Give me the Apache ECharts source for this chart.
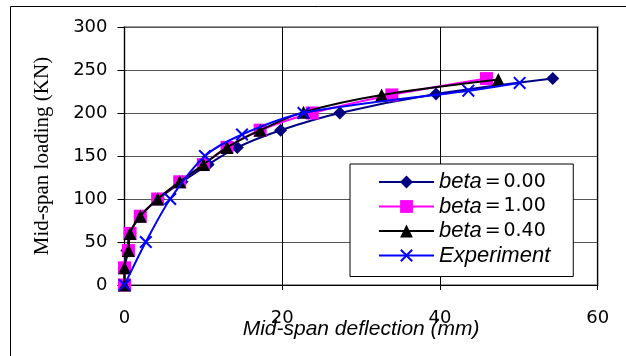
<!DOCTYPE html>
<html>
<head>
<meta charset="utf-8">
<script src="https://cdn.jsdelivr.net/npm/echarts@6/dist/echarts.min.js"></script>
<style>
html,body{margin:0;padding:0;background:#fff;}
#c{width:626px;height:356px;}
</style>
</head>
<body>
<div id="c"></div>
<script>
// ---- data ----
const seriesNames = ['beta = 0.00', 'beta = 1.00', 'beta = 0.40', 'Experiment'];

const beta000X = [0, 0, 0.3, 0.7, 2, 4.3, 7.3, 10.6, 14.3, 19.8, 27.3, 39.5, 54.3];
const beta000Y = [0, 20, 40, 60, 80, 100, 120, 140, 160, 180, 200, 222, 240];

const beta100X = [0, 0, 0.5, 0.7, 2, 4.2, 7, 10, 13, 17.2, 23.8, 33.9, 45.9];
const beta100Y = [0, 20, 40, 60, 80, 100, 120, 140, 160, 180, 200, 221, 240];

const beta040X = [0, 0, 0.5, 0.7, 2, 4.2, 7, 10, 13, 17.2, 22.7, 32.6, 47.4];
const beta040Y = [0, 20, 40, 60, 80, 100, 120, 140, 160, 180, 201, 221, 239];

const expX = [0, 2.7, 5.8, 10.2, 14.9, 22.7, 43.6, 50.1];
const expY = [0, 50, 100, 150, 175, 200, 226, 235];

const xTicks = [0, 20, 40, 60];
const yTicks = [0, 50, 100, 150, 200, 250, 300];

function pairs(xs, ys) { return xs.map((x, i) => [x, ys[i]]); }

const crossPath = 'path://M0,1.1L1.1,0L5,3.9L8.9,0L10,1.1L6.1,5L10,8.9L8.9,10L5,6.1L1.1,10L0,8.9L3.9,5Z';

const chart = echarts.init(document.getElementById('c'), null, {renderer: 'canvas'});

const option = {
  animation: false,
  backgroundColor: '#ffffff',
  graphic: [{
    type: 'rect',
    shape: {x: 10.5, y: 6.5, width: 700, height: 400},
    style: {fill: 'none', stroke: '#000', lineWidth: 1},
    silent: true,
    z: 0
  }],
  grid: {
    left: 124.5, right: 28.3, top: 27, bottom: 71,
    containLabel: false, outerBoundsMode: 'none',
    show: true, borderColor: '#9a9a9a', borderWidth: 2, backgroundColor: 'transparent'
  },
  legend: {
    data: seriesNames,
    orient: 'vertical',
    left: 350, top: 164,
    padding: [7, 23, 10, 28],
    itemWidth: 55, itemHeight: 16, itemGap: 2.5,
    backgroundColor: '#fff',
    borderColor: '#000', borderWidth: 1, borderRadius: 0,
    formatter: function (name) {
      if (name === 'Experiment') return '{i|Experiment}';
      const v = name.split(' = ')[1];
      return '{i|beta}{s| }{n|=}{s| }{n|' + v + '}';
    },
    textStyle: {
      color: '#000',
      rich: {
        i: {fontFamily: 'Liberation Sans', fontStyle: 'italic', fontSize: 22, lineHeight: 24, color: '#000'},
        n: {fontFamily: 'DejaVu Sans', fontSize: 19, lineHeight: 24, color: '#000'},
        s: {fontFamily: 'DejaVu Sans', fontSize: 9, lineHeight: 24}
      }
    }
  },
  xAxis: {
    type: 'value', min: 0, max: 60, interval: 20,
    name: 'Mid-span deflection (mm)',
    nameLocation: 'middle', nameGap: 34, nameMoveOverlap: false,
    nameTextStyle: {fontFamily: 'Liberation Sans', fontStyle: 'italic', fontSize: 21, color: '#000'},
    axisLine: {show: true, onZero: false, lineStyle: {color: '#000', width: 1}},
    axisTick: {show: true, inside: false, length: 5, lineStyle: {color: '#000'}},
    axisLabel: {fontFamily: 'DejaVu Sans', fontSize: 18, color: '#000', margin: 24},
    splitLine: {show: true, lineStyle: {color: '#000', width: 1}}
  },
  yAxis: {
    type: 'value', min: 0, max: 300, interval: 50,
    name: 'Mid-span loading (KN)',
    nameLocation: 'middle', nameGap: 72, nameRotate: 90, nameMoveOverlap: false,
    nameTextStyle: {fontFamily: 'Liberation Serif', fontSize: 21, color: '#000'},
    axisLine: {show: true, onZero: false, lineStyle: {color: '#000', width: 1}},
    axisTick: {show: true, inside: false, length: 7, lineStyle: {color: '#000'}},
    axisLabel: {fontFamily: 'DejaVu Sans', fontSize: 18, color: '#000', margin: 17},
    splitLine: {show: true, lineStyle: {color: '#555', width: 1}}
  },
  series: [
    {
      name: seriesNames[0], type: 'line', data: pairs(beta000X, beta000Y),
      smooth: 0.3, symbol: 'diamond', symbolSize: 13,
      itemStyle: {color: '#000080'}, lineStyle: {color: '#000080', width: 2}, z: 2
    },
    {
      name: seriesNames[1], type: 'line', data: pairs(beta100X, beta100Y),
      smooth: 0.3, symbol: 'rect', symbolSize: 13,
      itemStyle: {color: '#ff00ff'}, lineStyle: {color: '#ff00ff', width: 2}, z: 3
    },
    {
      name: seriesNames[2], type: 'line', data: pairs(beta040X, beta040Y),
      smooth: 0.3, symbol: 'triangle', symbolSize: 13,
      itemStyle: {color: '#000000'}, lineStyle: {color: '#000000', width: 2}, z: 4
    },
    {
      name: seriesNames[3], type: 'line', data: pairs(expX, expY),
      smooth: 0.3, symbol: crossPath, symbolSize: 13,
      itemStyle: {color: '#0000ff'}, lineStyle: {color: '#0000ff', width: 2}, z: 5
    }
  ]
};
chart.setOption(option);
</script>
</body>
</html>
